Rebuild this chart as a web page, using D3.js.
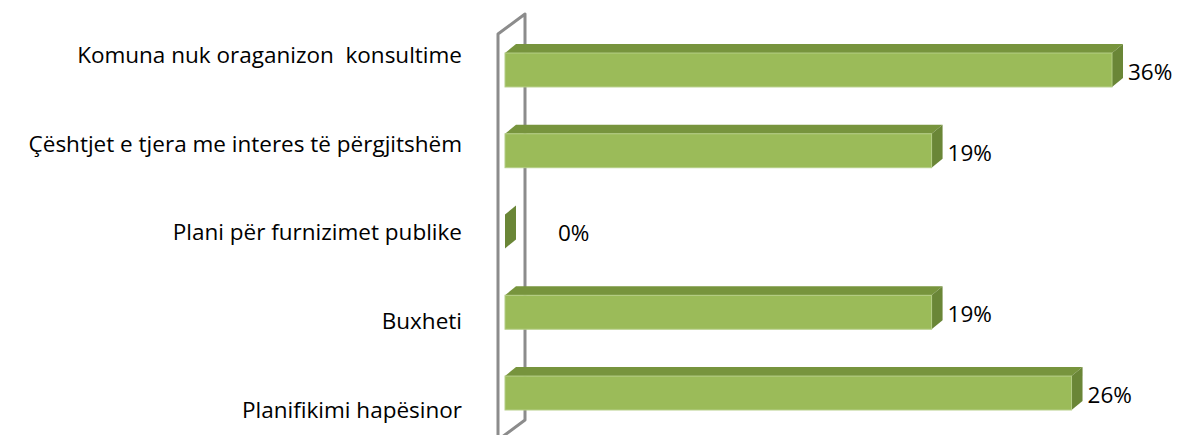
<!DOCTYPE html>
<html>
<head>
<meta charset="utf-8">
<script src="https://cdn.jsdelivr.net/npm/d3@7"></script>
<style>
  body { margin: 0; background: #fff; }
  text { font-family: "Open Sans", sans-serif; fill: #000; }
</style>
</head>
<body>
<div id="chart"></div>
<script>
// categories, top to bottom
let categories = ["Komuna nuk oraganizon  konsultime",
                  "Çështjet e tjera me interes të përgjitshëm",
                  "Plani për furnizimet publike",
                  "Buxheti",
                  "Planifikimi hapësinor"]

// bar lengths as drawn in the picture (axis units), and the labels printed next to them
let barValues = [36, 25.3, 0, 25.3, 33.6]
let valueLabels = ["36%", "19%", "0%", "19%", "26%"]

let data = categories.map((c, i) => ({cat: c, value: barValues[i], label: valueLabels[i]}))

var width = 1178, height = 435

var svg = d3.select("#chart")
  .append("svg")
    .attr("width", width)
    .attr("height", height)

// 3d depth of bars and of the back wall
let depth = {dx: 11, dy: -9}
let wallDepth = {dx: 27, dy: -20}

var x = d3.scaleLinear()
    .domain([0, 36])
    .range([505, 1112])

var y = d3.scaleBand()
    .domain(categories)
    .range([29.6, 433.4])
    .paddingInner(0.58)
    .paddingOuter(0.29)

// category labels sit on their own spacing (projected on the wall)
var yLabel = d3.scalePoint()
    .domain(categories)
    .range([55, 410])

// the wall (axis plane)
let wTop = 34, wBottom = 440
let x0 = x(0) - 7
svg.append("path")
  .attr("d", `M${x0},${wBottom} L${x0},${wTop} L${x0 + wallDepth.dx},${wTop + wallDepth.dy} L${x0 + wallDepth.dx},${wBottom + wallDepth.dy} Z`)
  .attr("fill", "none")
  .attr("stroke", "#8c8c8c")
  .attr("stroke-width", 3)
  .attr("stroke-linejoin", "round")

let bars = svg.selectAll(".bar")
  .data(data)
  .join("g")
  .attr("class", "bar")

// top face
bars.filter(d => d.value > 0)
  .append("path")
  .attr("d", d => {
    let x1 = x(0), x2 = x(d.value), yt = y(d.cat)
    return `M${x1},${yt} L${x1 + depth.dx},${yt + depth.dy} L${x2 + depth.dx},${yt + depth.dy} L${x2},${yt} Z`
  })
  .attr("fill", "#77943d")

// side face
bars.append("path")
  .attr("d", d => {
    let x2 = x(d.value), yt = y(d.cat), yb = yt + y.bandwidth()
    return `M${x2},${yt} L${x2 + depth.dx},${yt + depth.dy} L${x2 + depth.dx},${yb + depth.dy} L${x2},${yb} Z`
  })
  .attr("fill", "#6a8637")

// front face
bars.filter(d => d.value > 0)
  .append("rect")
  .attr("x", x(0))
  .attr("y", d => y(d.cat))
  .attr("width", d => x(d.value) - x(0))
  .attr("height", y.bandwidth())
  .attr("fill", "#9bbb59")
  .attr("stroke", "#b4cd85")
  .attr("stroke-width", 1)

// value labels
bars.append("text")
  .attr("x", d => d.value > 0 ? x(d.value) + depth.dx + 5 : x(0) + 53)
  .attr("y", d => y(d.cat) + y.bandwidth() / 2 + 2)
  .attr("dy", "0.35em")
  .style("font-size", "22.5px")
  .text(d => d.label)

// category labels
svg.selectAll(".catLabel")
  .data(categories)
  .join("text")
  .attr("class", "catLabel")
  .attr("x", 462)
  .attr("y", d => yLabel(d))
  .attr("dy", "0.35em")
  .attr("text-anchor", "end")
  .style("font-size", "22.5px")
  .style("white-space", "pre")
  .text(d => d)
</script>
</body>
</html>
